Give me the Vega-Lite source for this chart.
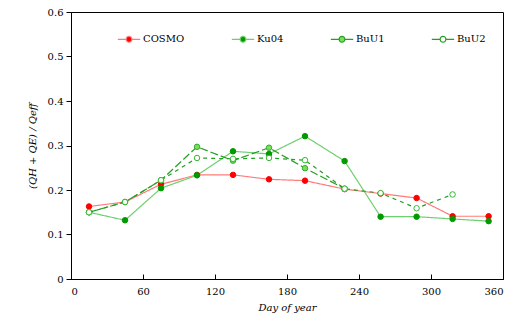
{
  "$schema": "https://vega.github.io/schema/vega-lite/v6.json",
  "autosize": {"type": "none"},
  "padding": {"left": 71, "top": 12, "right": 10, "bottom": 46},
  "width": 432,
  "height": 267,
  "background": "white",
  "config": {
    "font": "DejaVu Serif",
    "view": {"stroke": "black", "strokeWidth": 1},
    "axis": {"grid": false, "domainColor": "black", "tickColor": "black", "labelColor": "black", "titleColor": "black", "labelFont": "DejaVu Serif", "titleFont": "DejaVu Serif", "labelFontSize": 10, "titleFontSize": 10, "titleFontWeight": "normal", "titleFontStyle": "italic"}
  },
  "data": {"values": [
    {"series": "COSMO", "day": 15, "value": 0.163},
    {"series": "COSMO", "day": 45, "value": 0.173},
    {"series": "COSMO", "day": 75, "value": 0.213},
    {"series": "COSMO", "day": 105, "value": 0.234},
    {"series": "COSMO", "day": 135, "value": 0.234},
    {"series": "COSMO", "day": 165, "value": 0.224},
    {"series": "COSMO", "day": 195, "value": 0.221},
    {"series": "COSMO", "day": 228, "value": 0.202},
    {"series": "COSMO", "day": 258, "value": 0.192},
    {"series": "COSMO", "day": 288, "value": 0.182},
    {"series": "COSMO", "day": 318, "value": 0.141},
    {"series": "COSMO", "day": 348, "value": 0.141},
    {"series": "Ku04", "day": 15, "value": 0.15},
    {"series": "Ku04", "day": 45, "value": 0.132},
    {"series": "Ku04", "day": 75, "value": 0.204},
    {"series": "Ku04", "day": 105, "value": 0.233},
    {"series": "Ku04", "day": 135, "value": 0.287},
    {"series": "Ku04", "day": 165, "value": 0.281},
    {"series": "Ku04", "day": 195, "value": 0.321},
    {"series": "Ku04", "day": 228, "value": 0.265},
    {"series": "Ku04", "day": 258, "value": 0.14},
    {"series": "Ku04", "day": 288, "value": 0.14},
    {"series": "Ku04", "day": 318, "value": 0.135},
    {"series": "Ku04", "day": 348, "value": 0.13},
    {"series": "BuU1", "day": 15, "value": 0.15},
    {"series": "BuU1", "day": 45, "value": 0.173},
    {"series": "BuU1", "day": 75, "value": 0.222},
    {"series": "BuU1", "day": 105, "value": 0.297},
    {"series": "BuU1", "day": 135, "value": 0.266},
    {"series": "BuU1", "day": 165, "value": 0.295},
    {"series": "BuU1", "day": 195, "value": 0.249},
    {"series": "BuU1", "day": 228, "value": 0.203},
    {"series": "BuU2", "day": 15, "value": 0.15},
    {"series": "BuU2", "day": 45, "value": 0.173},
    {"series": "BuU2", "day": 75, "value": 0.222},
    {"series": "BuU2", "day": 105, "value": 0.272},
    {"series": "BuU2", "day": 135, "value": 0.27},
    {"series": "BuU2", "day": 165, "value": 0.272},
    {"series": "BuU2", "day": 195, "value": 0.267},
    {"series": "BuU2", "day": 228, "value": 0.203},
    {"series": "BuU2", "day": 258, "value": 0.193},
    {"series": "BuU2", "day": 288, "value": 0.159},
    {"series": "BuU2", "day": 318, "value": 0.19}
  ]},
  "encoding": {
    "x": {"field": "day", "type": "quantitative", "scale": {"domain": [0, 360], "nice": false}, "axis": {"values": [0, 60, 120, 180, 240, 300, 360], "title": "Day of year", "tickSize": -5, "labelPadding": 12, "titlePadding": 6}},
    "y": {"field": "value", "type": "quantitative", "scale": {"domain": [0, 0.6], "nice": false}, "axis": {"values": [0, 0.1, 0.2, 0.3, 0.4, 0.5, 0.6], "format": ".1~f", "title": "(QH + QE) / Qeff", "tickSize": 5, "labelPadding": 3, "titlePadding": 10}}
  },
  "layer": [
    {
      "mark": {"type": "line", "strokeWidth": 1.2},
      "encoding": {
        "stroke": {"field": "series", "type": "nominal", "sort": ["COSMO", "Ku04", "BuU1", "BuU2"],
          "scale": {"domain": ["COSMO", "Ku04", "BuU1", "BuU2"], "range": ["#ff7a7a", "#6fcf6f", "#22a022", "#22a022"]},
          "legend": {
            "title": null, "orient": "none", "legendX": 46, "legendY": 15, "direction": "horizontal", "columns": 4, "columnPadding": 44,
            "symbolType": "M-1,0H-0.26M0.26,0H1M-0.26,0A0.26,0.26,0,1,1,0.26,0A0.26,0.26,0,1,1,-0.26,0Z",
            "symbolSize": 500, "symbolStrokeWidth": 1.2, "labelFont": "DejaVu Serif", "labelFontSize": 10, "labelColor": "black", "labelOffset": 2,
            "encode": {"symbols": {"update": {"fill": {"signal": "datum.value === 'COSMO' ? '#ff0000' : datum.value === 'Ku04' ? '#009900' : datum.value === 'BuU1' ? '#77e055' : '#ffffff'"}, "opacity": {"value": 1}}}}
          }},
        "strokeDash": {"field": "series", "type": "nominal", "sort": ["COSMO", "Ku04", "BuU1", "BuU2"],
          "scale": {"domain": ["COSMO", "Ku04", "BuU1", "BuU2"], "range": [[1, 0], [1, 0], [8, 3], [4, 4]]}, "legend": null}
      }
    },
    {
      "mark": {"type": "point", "filled": false, "size": 30, "strokeWidth": 1, "opacity": 1},
      "encoding": {
        "fill": {"field": "series", "type": "nominal", "scale": {"domain": ["COSMO", "Ku04", "BuU1", "BuU2"], "range": ["#ff0000", "#009900", "#77e055", "#ffffff"]}, "legend": null},
        "color": {"field": "series", "type": "nominal", "scale": {"domain": ["COSMO", "Ku04", "BuU1", "BuU2"], "range": ["#ff0000", "#009900", "#33aa33", "#33bb33"]}, "legend": null}
      }
    }
  ],
  "resolve": {"scale": {"stroke": "independent"}}
}
